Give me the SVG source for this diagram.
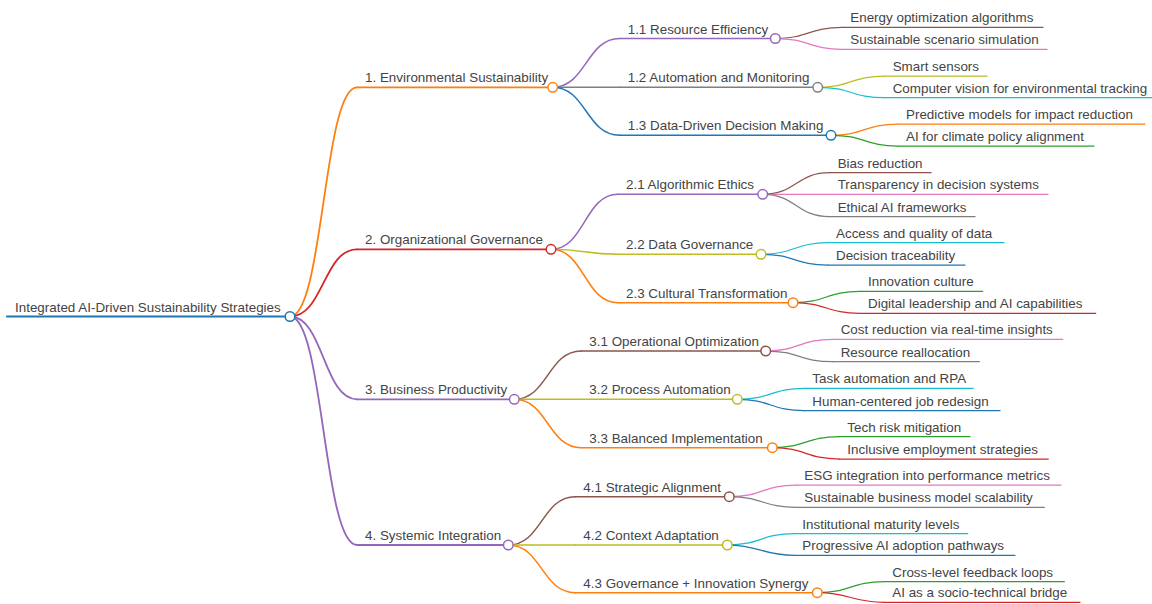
<svg xmlns="http://www.w3.org/2000/svg" width="1152" height="604" viewBox="0 0 1152 604">
<style>
text{font-family:"Liberation Sans",Arial,Helvetica,sans-serif;font-size:13.4px;fill:#444}
path,line{fill:none;stroke-linecap:round}
circle{fill:#fff;stroke-width:1.5}
.l0{stroke-width:2.2}.l1{stroke-width:1.8}.l2{stroke-width:1.5}.l3{stroke-width:1.25}
.blue{stroke:#1f77b4}.orange{stroke:#ff7f0e}.green{stroke:#2ca02c}.red{stroke:#d62728}.purple{stroke:#9467bd}
.brown{stroke:#8c564b}.pink{stroke:#e377c2}.gray{stroke:#7f7f7f}.olive{stroke:#bcbd22}.cyan{stroke:#17becf}
</style>
<rect width="1152" height="604" fill="#fff"/>
<g id="connectors">
<path class="l1 orange" d="M290,316.5 C323.5,316.5 323.5,87.3 357,87.3"/>
<path class="l1 red" d="M290,316.5 C323.5,316.5 323.5,249.3 357,249.3"/>
<path class="l1 purple" d="M290,316.5 C323.5,316.5 323.5,399.3 357,399.3"/>
<path class="l1 purple" d="M290,316.5 C323.5,316.5 323.5,545 357,545"/>

<path class="l2 purple" d="M552.7,87.3 C586.2,87.3 586.2,38.5 619.7,38.5"/>
<path class="l2 gray" d="M552.7,87.3 L619.7,87.3"/>
<path class="l2 blue" d="M552.7,87.3 C586.2,87.3 586.2,135.3 619.7,135.3"/>
<path class="l2 purple" d="M551,249.3 C584.5,249.3 584.5,194.3 618,194.3"/>
<path class="l2 olive" d="M551,249.3 C584.5,249.3 584.5,254.3 618,254.3"/>
<path class="l2 orange" d="M551,249.3 C584.5,249.3 584.5,302.7 618,302.7"/>
<path class="l2 brown" d="M514.3,399.3 C547.8,399.3 547.8,351 581.3,351"/>
<path class="l2 olive" d="M514.3,399.3 L581.3,399.3"/>
<path class="l2 orange" d="M514.3,399.3 C547.8,399.3 547.8,447.7 581.3,447.7"/>
<path class="l2 brown" d="M508.3,545 C541.8,545 541.8,496.7 575.3,496.7"/>
<path class="l2 olive" d="M508.3,545 L575.3,545"/>
<path class="l2 orange" d="M508.3,545 C541.8,545 541.8,592.7 575.3,592.7"/>

<path class="l3 brown" d="M775.3,38.5 C808.8,38.5 808.8,27.3 842.3,27.3"/>
<path class="l3 pink" d="M775.3,38.5 C808.8,38.5 808.8,49.3 842.3,49.3"/>
<path class="l3 olive" d="M817.7,87.3 C851.2,87.3 851.2,76 884.7,76"/>
<path class="l3 cyan" d="M817.7,87.3 C851.2,87.3 851.2,97.7 884.7,97.7"/>
<path class="l3 orange" d="M831,135.3 C864.5,135.3 864.5,124 898,124"/>
<path class="l3 green" d="M831,135.3 C864.5,135.3 864.5,146 898,146"/>
<path class="l3 brown" d="M762.7,194.3 C796.2,194.3 796.2,172.7 829.7,172.7"/>
<path class="l3 pink" d="M762.7,194.3 L829.7,194.3"/>
<path class="l3 gray" d="M762.7,194.3 C796.2,194.3 796.2,216.7 829.7,216.7"/>
<path class="l3 cyan" d="M761,254.3 C794.5,254.3 794.5,242.7 828,242.7"/>
<path class="l3 blue" d="M761,254.3 C794.5,254.3 794.5,265 828,265"/>
<path class="l3 green" d="M793,302.7 C826.5,302.7 826.5,291.3 860,291.3"/>
<path class="l3 red" d="M793,302.7 C826.5,302.7 826.5,313.3 860,313.3"/>
<path class="l3 pink" d="M765.7,351 C799.2,351 799.2,339.3 832.7,339.3"/>
<path class="l3 gray" d="M765.7,351 C799.2,351 799.2,361.7 832.7,361.7"/>
<path class="l3 cyan" d="M737.3,399.3 C770.8,399.3 770.8,388.3 804.3,388.3"/>
<path class="l3 blue" d="M737.3,399.3 C770.8,399.3 770.8,410.7 804.3,410.7"/>
<path class="l3 green" d="M772.3,447.7 C805.8,447.7 805.8,436.7 839.3,436.7"/>
<path class="l3 red" d="M772.3,447.7 C805.8,447.7 805.8,459 839.3,459"/>
<path class="l3 pink" d="M729.3,496.7 C762.8,496.7 762.8,485 796.3,485"/>
<path class="l3 gray" d="M729.3,496.7 C762.8,496.7 762.8,507.3 796.3,507.3"/>
<path class="l3 cyan" d="M727.3,545 C760.8,545 760.8,533.7 794.3,533.7"/>
<path class="l3 blue" d="M727.3,545 C760.8,545 760.8,555.3 794.3,555.3"/>
<path class="l3 green" d="M817.3,592.7 C850.8,592.7 850.8,581.7 884.3,581.7"/>
<path class="l3 red" d="M817.3,592.7 C850.8,592.7 850.8,602.3 884.3,602.3"/>
</g>

<g id="root"><line class="l0 blue" x1="7" y1="316.5" x2="290" y2="316.5"/><text x="15" y="311.5">Integrated AI-Driven Sustainability Strategies</text><circle class="blue" cx="290" cy="316.5" r="4.8"/></g>

<g id="n1"><line class="l1 orange" x1="357" y1="87.3" x2="552.7" y2="87.3"/><text x="365" y="82.3">1. Environmental Sustainability</text><circle class="orange" cx="552.7" cy="87.3" r="4.8"/></g>
<g id="n2"><line class="l1 red" x1="357" y1="249.3" x2="551" y2="249.3"/><text x="365" y="244.3">2. Organizational Governance</text><circle class="red" cx="551" cy="249.3" r="4.8"/></g>
<g id="n3"><line class="l1 purple" x1="357" y1="399.3" x2="514.3" y2="399.3"/><text x="365" y="394.3">3. Business Productivity</text><circle class="purple" cx="514.3" cy="399.3" r="4.8"/></g>
<g id="n4"><line class="l1 purple" x1="357" y1="545" x2="508.3" y2="545"/><text x="365" y="540">4. Systemic Integration</text><circle class="purple" cx="508.3" cy="545" r="4.8"/></g>

<g id="n1-1"><line class="l2 purple" x1="619.7" y1="38.5" x2="775.3" y2="38.5"/><text x="627.7" y="33.5">1.1 Resource Efficiency</text><circle class="purple" cx="775.3" cy="38.5" r="4.8"/></g>
<g id="n1-2"><line class="l2 gray" x1="619.7" y1="87.3" x2="817.7" y2="87.3"/><text x="627.7" y="82.3">1.2 Automation and Monitoring</text><circle class="gray" cx="817.7" cy="87.3" r="4.8"/></g>
<g id="n1-3"><line class="l2 blue" x1="619.7" y1="135.3" x2="831" y2="135.3"/><text x="627.7" y="130.3">1.3 Data-Driven Decision Making</text><circle class="blue" cx="831" cy="135.3" r="4.8"/></g>
<g id="n2-1"><line class="l2 purple" x1="618" y1="194.3" x2="762.7" y2="194.3"/><text x="626" y="189.3">2.1 Algorithmic Ethics</text><circle class="purple" cx="762.7" cy="194.3" r="4.8"/></g>
<g id="n2-2"><line class="l2 olive" x1="618" y1="254.3" x2="761" y2="254.3"/><text x="626" y="249.3">2.2 Data Governance</text><circle class="olive" cx="761" cy="254.3" r="4.8"/></g>
<g id="n2-3"><line class="l2 orange" x1="618" y1="302.7" x2="793" y2="302.7"/><text x="626" y="297.7">2.3 Cultural Transformation</text><circle class="orange" cx="793" cy="302.7" r="4.8"/></g>
<g id="n3-1"><line class="l2 brown" x1="581.3" y1="351" x2="765.7" y2="351"/><text x="589.3" y="346">3.1 Operational Optimization</text><circle class="brown" cx="765.7" cy="351" r="4.8"/></g>
<g id="n3-2"><line class="l2 olive" x1="581.3" y1="399.3" x2="737.3" y2="399.3"/><text x="589.3" y="394.3">3.2 Process Automation</text><circle class="olive" cx="737.3" cy="399.3" r="4.8"/></g>
<g id="n3-3"><line class="l2 orange" x1="581.3" y1="447.7" x2="772.3" y2="447.7"/><text x="589.3" y="442.7">3.3 Balanced Implementation</text><circle class="orange" cx="772.3" cy="447.7" r="4.8"/></g>
<g id="n4-1"><line class="l2 brown" x1="575.3" y1="496.7" x2="729.3" y2="496.7"/><text x="583.3" y="491.7">4.1 Strategic Alignment</text><circle class="brown" cx="729.3" cy="496.7" r="4.8"/></g>
<g id="n4-2"><line class="l2 olive" x1="575.3" y1="545" x2="727.3" y2="545"/><text x="583.3" y="540">4.2 Context Adaptation</text><circle class="olive" cx="727.3" cy="545" r="4.8"/></g>
<g id="n4-3"><line class="l2 orange" x1="575.3" y1="592.7" x2="817.3" y2="592.7"/><text x="583.3" y="587.7">4.3 Governance + Innovation Synergy</text><circle class="orange" cx="817.3" cy="592.7" r="4.8"/></g>

<g id="l1-1a"><line class="l3 brown" x1="842.3" y1="27.3" x2="1043" y2="27.3"/><text x="850.3" y="22.3">Energy optimization algorithms</text></g>
<g id="l1-1b"><line class="l3 pink" x1="842.3" y1="49.3" x2="1047" y2="49.3"/><text x="850.3" y="44.3">Sustainable scenario simulation</text></g>
<g id="l1-2a"><line class="l3 olive" x1="884.7" y1="76" x2="987" y2="76"/><text x="892.7" y="71">Smart sensors</text></g>
<g id="l1-2b"><line class="l3 cyan" x1="884.7" y1="97.7" x2="1152" y2="97.7"/><text x="892.7" y="92.7">Computer vision for environmental tracking</text></g>
<g id="l1-3a"><line class="l3 orange" x1="898" y1="124" x2="1145" y2="124"/><text x="906" y="119">Predictive models for impact reduction</text></g>
<g id="l1-3b"><line class="l3 green" x1="898" y1="146" x2="1094" y2="146"/><text x="906" y="141">AI for climate policy alignment</text></g>
<g id="l2-1a"><line class="l3 brown" x1="829.7" y1="172.7" x2="931" y2="172.7"/><text x="837.7" y="167.7">Bias reduction</text></g>
<g id="l2-1b"><line class="l3 pink" x1="829.7" y1="194.3" x2="1048" y2="194.3"/><text x="837.7" y="189.3">Transparency in decision systems</text></g>
<g id="l2-1c"><line class="l3 gray" x1="829.7" y1="216.7" x2="975" y2="216.7"/><text x="837.7" y="211.7">Ethical AI frameworks</text></g>
<g id="l2-2a"><line class="l3 cyan" x1="828" y1="242.7" x2="1004" y2="242.7"/><text x="836" y="237.7">Access and quality of data</text></g>
<g id="l2-2b"><line class="l3 blue" x1="828" y1="265" x2="965" y2="265"/><text x="836" y="260">Decision traceability</text></g>
<g id="l2-3a"><line class="l3 green" x1="860" y1="291.3" x2="982.7" y2="291.3"/><text x="868" y="286.3">Innovation culture</text></g>
<g id="l2-3b"><line class="l3 red" x1="860" y1="313.3" x2="1095.7" y2="313.3"/><text x="868" y="308.3">Digital leadership and AI capabilities</text></g>
<g id="l3-1a"><line class="l3 pink" x1="832.7" y1="339.3" x2="1062.7" y2="339.3"/><text x="840.7" y="334.3">Cost reduction via real-time insights</text></g>
<g id="l3-1b"><line class="l3 gray" x1="832.7" y1="361.7" x2="979.3" y2="361.7"/><text x="840.7" y="356.7">Resource reallocation</text></g>
<g id="l3-2a"><line class="l3 cyan" x1="804.3" y1="388.3" x2="973.3" y2="388.3"/><text x="812.3" y="383.3">Task automation and RPA</text></g>
<g id="l3-2b"><line class="l3 blue" x1="804.3" y1="410.7" x2="1000" y2="410.7"/><text x="812.3" y="405.7">Human-centered job redesign</text></g>
<g id="l3-3a"><line class="l3 green" x1="839.3" y1="436.7" x2="970" y2="436.7"/><text x="847.3" y="431.7">Tech risk mitigation</text></g>
<g id="l3-3b"><line class="l3 red" x1="839.3" y1="459" x2="1048.3" y2="459"/><text x="847.3" y="454">Inclusive employment strategies</text></g>
<g id="l4-1a"><line class="l3 pink" x1="796.3" y1="485" x2="1061" y2="485"/><text x="804.3" y="480">ESG integration into performance metrics</text></g>
<g id="l4-1b"><line class="l3 gray" x1="796.3" y1="507.3" x2="1044.3" y2="507.3"/><text x="804.3" y="502.3">Sustainable business model scalability</text></g>
<g id="l4-2a"><line class="l3 cyan" x1="794.3" y1="533.7" x2="967.7" y2="533.7"/><text x="802.3" y="528.7">Institutional maturity levels</text></g>
<g id="l4-2b"><line class="l3 blue" x1="794.3" y1="555.3" x2="1015" y2="555.3"/><text x="802.3" y="550.3">Progressive AI adoption pathways</text></g>
<g id="l4-3a"><line class="l3 green" x1="884.3" y1="581.7" x2="1064.3" y2="581.7"/><text x="892.3" y="576.7">Cross-level feedback loops</text></g>
<g id="l4-3b"><line class="l3 red" x1="884.3" y1="602.3" x2="1080" y2="602.3"/><text x="892.3" y="597.3">AI as a socio-technical bridge</text></g>
</svg>
